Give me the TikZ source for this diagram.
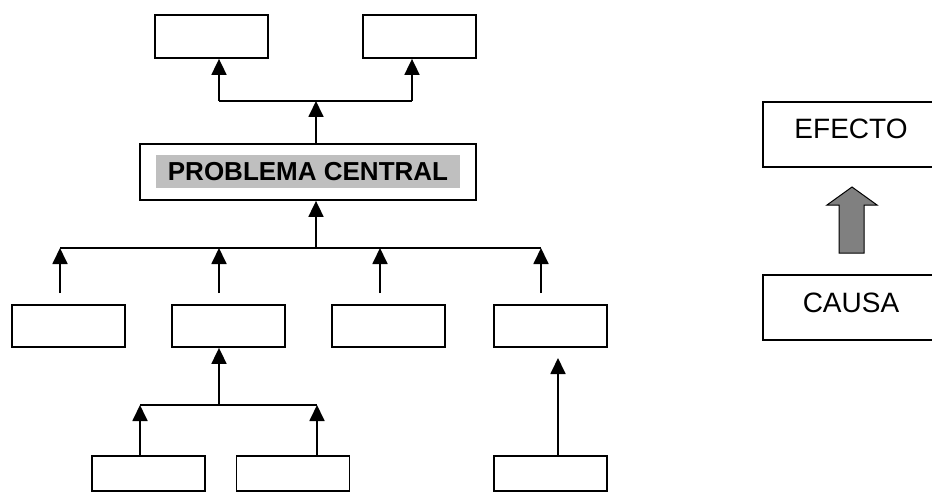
\documentclass[tikz,border=0pt]{standalone}
\usepackage{fontspec}
\setmainfont{Liberation Sans}
\usetikzlibrary{arrows.meta}
\begin{document}
\begin{tikzpicture}[x=1pt,y=-1pt,
  box/.style={draw,line width=1.8pt,rectangle,inner sep=0pt,minimum width=113pt,minimum height=43pt},
  wire/.style={line width=1.8pt},
  arr/.style={line width=1.8pt,-{Triangle[length=16pt,width=15pt]}},
  lbl/.style={font=\fontsize{28}{30}\selectfont}]
\clip (0,0) rectangle (932,492);
% top boxes
\node[box] (t1) at (211.5,36.5) {};
\node[box] (t2) at (419.5,36.5) {};
% central problem
\node[box,minimum width=336pt,minimum height=56pt] (pc) at (308,172) {};
\node[fill=black!25,inner sep=0pt,minimum width=304pt,minimum height=33pt,font=\fontsize{26}{28}\bfseries\selectfont] (pcl) at (308,171.5) {PROBLEMA CENTRAL};
% effect connectors
\coordinate (a0) at (316,101);
\coordinate (a1) at (219,101);
\coordinate (a2) at (412,101);
\draw[wire] (a1) -- (a2);
\draw[arr] (pc.north -| a0) -- (a0);
\draw[arr] (a1) -- (t1.south -| a1);
\draw[arr] (a2) -- (t2.south -| a2);
% cause row
\node[box,minimum height=42pt] (r1) at (68.5,326) {};
\node[box,minimum height=42pt] (r2) at (228.5,326) {};
\node[box,minimum height=42pt] (r3) at (388.5,326) {};
\node[box,minimum height=42pt] (r4) at (550.5,326) {};
\coordinate (b0) at (316,248);
\coordinate (b1) at (60,248);
\coordinate (b2) at (219,248);
\coordinate (b3) at (380,248);
\coordinate (b4) at (541,248);
\coordinate (c1) at (60,293);
\coordinate (c2) at (219,293);
\coordinate (c3) at (380,293);
\coordinate (c4) at (541,293);
\draw[wire] (b1) -- (b4);
\draw[arr] (b0) -- (pc.south -| b0);
\draw[arr] (c1) -- (b1);
\draw[arr] (c2) -- (b2);
\draw[arr] (c3) -- (b3);
\draw[arr] (c4) -- (b4);
% sub-causes
\node[box,minimum height=35.5pt] (q1) at (148.5,473.5) {};
\node[box,minimum height=35.5pt] (q2) at (293,473.5) {};
\node[box,minimum height=35.5pt] (q3) at (550.5,473.5) {};
\coordinate (d0) at (219,405);
\coordinate (d1) at (140,405);
\coordinate (d2) at (317,405);
\draw[wire] (d1) -- (d2);
\draw[arr] (d0) -- (r2.south -| d0);
\draw[arr] (q1.north -| d1) -- (d1);
\draw[arr] (q2.north -| d2) -- (d2);
\coordinate (e4) at (558,358);
\draw[arr] (q3.north -| e4) -- (e4);
% legend
\node[box,minimum width=182pt,minimum height=65pt] (ef) at (854,134.5) {};
\node[lbl] (eft) at (851,129) {EFECTO};
\node[box,minimum width=182pt,minimum height=65pt] (ca) at (854,307.5) {};
\node[lbl] (cat) at (851,303) {CAUSA};
\draw[line width=1pt,fill=black!50] (852,187) -- (877,205) -- (864,205) -- (864,253) -- (839,253) -- (839,205) -- (827,205) -- cycle;
\end{tikzpicture}
\end{document}
